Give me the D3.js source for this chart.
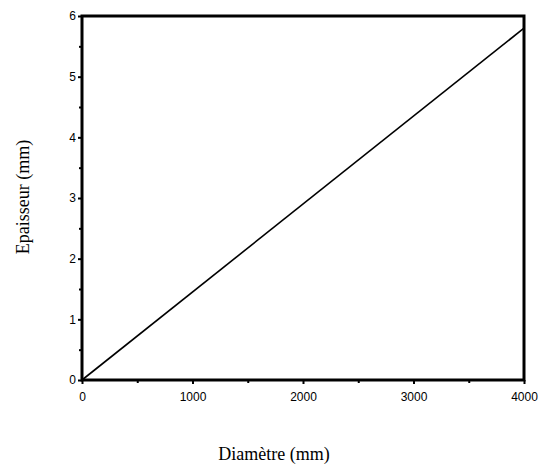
<!DOCTYPE html>
<html><head><meta charset="utf-8">
<script src="https://cdn.jsdelivr.net/npm/d3@7"></script>
<style>body{margin:0;background:#fff}</style>
</head><body>
<script>
// Thickness of the plate as a function of diameter
const diameters = [0, 4000];
const thickness = [0, 5.8];
const xTicks = [0, 1000, 2000, 3000, 4000];
const xMinor = [500, 1500, 2500, 3500];
const yTicks = [0, 1, 2, 3, 4, 5, 6];
const yMinor = [0.5, 1.5, 2.5, 3.5, 4.5, 5.5];

const W = 540, H = 466;
const plotL = 82, plotR = 524, plotT = 16, plotB = 380;

const svg = d3.select("body").append("svg").attr("width", W).attr("height", H);
const x = d3.scaleLinear().domain([0, 4000]).range([plotL, plotR]);
const y = d3.scaleLinear().domain([0, 6]).range([plotB, plotT]);

// data line
svg.append("path")
  .datum(diameters.map((d, i) => [d, thickness[i]]))
  .attr("fill", "none").attr("stroke", "#000").attr("stroke-width", 1.6)
  .attr("d", d3.line().x(d => x(d[0])).y(d => y(d[1])));

// frame
svg.append("rect").attr("x", plotL).attr("y", plotT)
  .attr("width", plotR - plotL).attr("height", plotB - plotT)
  .attr("fill", "none").attr("stroke", "#000").attr("stroke-width", 3);

const tickFont = "Arial, 'Liberation Sans', sans-serif";

// x axis: labelled ticks plus half-step minor ticks
const gx = svg.append("g").attr("transform", `translate(0,${plotB})`)
  .call(d3.axisBottom(x).tickValues(xTicks).tickSize(4).tickPadding(8).tickFormat(d3.format("d")));
gx.select(".domain").remove();
gx.selectAll(".tick line").attr("stroke-width", 2);
gx.selectAll("text").attr("font-family", tickFont).attr("font-size", 12).attr("fill", "#000");
svg.append("g").attr("transform", `translate(0,${plotB})`)
  .call(d3.axisBottom(x).tickValues(xMinor).tickSize(3).tickFormat(""))
  .call(g => g.select(".domain").remove())
  .selectAll(".tick line").attr("stroke-width", 2);

// y axis
const gy = svg.append("g").attr("transform", `translate(${plotL},0)`)
  .call(d3.axisLeft(y).tickValues(yTicks).tickSize(4).tickPadding(2).tickFormat(d3.format("d")));
gy.select(".domain").remove();
gy.selectAll(".tick line").attr("stroke-width", 2);
gy.selectAll("text").attr("font-family", tickFont).attr("font-size", 12).attr("fill", "#000");
svg.append("g").attr("transform", `translate(${plotL},0)`)
  .call(d3.axisLeft(y).tickValues(yMinor).tickSize(3).tickFormat(""))
  .call(g => g.select(".domain").remove())
  .selectAll(".tick line").attr("stroke-width", 2);

// axis titles
const titleFont = "'Liberation Serif', 'Times New Roman', serif";
svg.append("text").attr("x", 274).attr("y", 460).attr("text-anchor", "middle")
  .attr("font-family", titleFont).attr("font-size", 18)
  .text("Diamètre (mm)");
svg.append("text").attr("transform", "translate(29,197) rotate(-90)").attr("text-anchor", "middle")
  .attr("font-family", titleFont).attr("font-size", 18)
  .text("Epaisseur (mm)");
</script>
</body></html>
